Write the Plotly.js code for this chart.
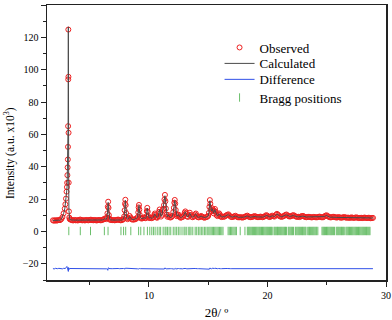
<!DOCTYPE html>
<html>
<head>
<meta charset="utf-8">
<script src="https://cdn.plot.ly/plotly-3.0.1.min.js"></script>
<style>
  html, body { margin: 0; padding: 0; background: #fff; }
  #plot { width: 392px; height: 320px; }
</style>
</head>
<body>
<div id="plot"></div>
<script>
// 2theta grid (deg), observed and calculated intensity (a.u. x10^3)
const twoTheta = [
  1.9, 2.0, 2.1, 2.2, 2.3, 2.4, 2.5,
  2.6, 2.7, 2.8, 2.9, 2.95, 3.0, 3.05, 3.08, 3.1, 3.12, 3.14, 3.16, 3.17, 3.18, 3.19, 3.2, 3.21, 3.22, 3.23, 3.25, 3.28, 3.32,
  3.4, 3.5, 3.6, 3.7, 3.8, 3.9, 4.0, 4.1, 4.2, 4.3, 4.4, 4.5, 4.6, 4.7, 4.8, 4.9, 5.0, 5.1, 5.2, 5.3, 5.4, 5.5, 5.6, 5.7, 5.8, 5.9, 6.0, 6.1, 6.2,
  6.3, 6.4, 6.45, 6.5, 6.53, 6.56, 6.59, 6.62, 6.66, 6.7, 6.8, 6.9,
  7.0, 7.1, 7.2, 7.3, 7.4, 7.5, 7.6, 7.7, 7.8,
  7.85, 7.9, 7.95, 7.98, 8.01, 8.04, 8.07, 8.12, 8.2, 8.3, 8.37, 8.45, 8.55, 8.65, 8.75, 8.85, 8.95,
  9.05, 9.1, 9.13, 9.16, 9.19, 9.22, 9.28, 9.35, 9.45, 9.55, 9.65, 9.72,
  9.78, 9.82, 9.86, 9.9, 9.95, 10.02, 10.1, 10.2, 10.3, 10.38,
  10.45, 10.5, 10.55, 10.62, 10.7, 10.78, 10.85, 10.9, 10.95, 11.02, 11.1, 11.17, 11.22, 11.27, 11.31,
  11.35, 11.39, 11.43, 11.48, 11.55, 11.62, 11.7, 11.8, 11.9, 11.98,
  12.05, 12.1, 12.14, 12.18, 12.22, 12.26, 12.3, 12.36, 12.42, 12.5, 12.58, 12.66, 12.75, 12.85, 12.95,
  13.02, 13.07, 13.12, 13.2, 13.3, 13.38, 13.45, 13.52, 13.6, 13.7, 13.8, 13.9, 13.96, 14.02, 14.1, 14.2, 14.3, 14.4, 14.5, 14.6, 14.7, 14.8, 14.9, 15.0,
  15.06, 15.1, 15.14, 15.18, 15.22, 15.28, 15.34, 15.4, 15.46, 15.52, 15.57, 15.62, 15.7, 15.78, 15.86, 15.92, 15.97, 16.04, 16.12, 16.2,
  16.3, 16.4, 16.5, 16.6, 16.7, 16.8, 16.9, 17.0, 17.1, 17.2, 17.3, 17.4, 17.5, 17.6, 17.7, 17.8, 17.9, 18.0, 18.1, 18.2,
  18.3, 18.4, 18.5, 18.6, 18.7, 18.8, 18.9, 19.0,
  19.1, 19.2, 19.3, 19.4, 19.5, 19.6, 19.7, 19.8, 19.9, 20.0,
  20.1, 20.2, 20.3, 20.4, 20.5, 20.6, 20.7, 20.8, 20.9, 21.0,
  21.1, 21.2, 21.3, 21.4, 21.5, 21.6, 21.7, 21.8, 21.9, 22.0,
  22.1, 22.2, 22.3, 22.4, 22.5, 22.6, 22.7, 22.8, 22.9, 23.0,
  23.1, 23.2, 23.3, 23.4, 23.5, 23.6, 23.7, 23.8, 23.9, 24.0,
  24.1, 24.2, 24.3, 24.4, 24.5, 24.6, 24.7, 24.8, 24.9, 25.0,
  25.1, 25.2, 25.3, 25.4, 25.5, 25.6, 25.7, 25.8, 25.9, 26.0,
  26.1, 26.2, 26.3, 26.4, 26.5, 26.6, 26.7, 26.8, 26.9, 27.0,
  27.1, 27.2, 27.3, 27.4, 27.5, 27.6, 27.7, 27.8, 27.9, 28.0,
  28.1, 28.2, 28.3, 28.4, 28.5, 28.6, 28.7, 28.8, 28.9
];

const observed = [
  6.9, 6.6, 7.0, 6.7, 6.9, 7.1, 7.0,
  7.6, 8.9, 11.2, 14.1, 16.8, 20.3, 24.6, 27.4, 30.1, 34.8, 39.6, 44.5, 52.3, 65.1, 94.0, 124.8, 95.6, 61.0, 30.2, 12.4, 8.6, 7.6,
  7.3, 7.0, 6.8, 7.1, 6.9, 7.0, 6.8, 7.1, 7.4, 7.0, 6.9, 7.0, 6.8, 7.1, 7.0, 6.9, 7.1, 7.3, 7.0, 6.9, 7.1, 7.0, 6.8, 7.0, 7.1, 6.9, 7.0, 7.2, 7.6,
  8.1, 7.6, 8.4, 11.2, 15.3, 18.4, 14.6, 10.1, 8.0, 7.3, 7.1, 7.0,
  7.1, 6.9, 7.0, 7.2, 7.4, 7.1, 6.9, 7.0, 7.3,
  7.8, 9.2, 13.1, 17.2, 19.6, 16.3, 11.4, 8.4, 7.6, 8.3, 9.6, 8.6, 7.5, 7.3, 7.4, 7.6, 8.0,
  8.9, 11.8, 14.9, 16.4, 13.5, 10.3, 8.6, 8.0, 8.1, 8.7, 8.4, 8.2,
  9.3, 12.6, 14.6, 12.2, 9.4, 8.3, 8.6, 8.2, 8.4, 8.9,
  10.2, 11.1, 10.0, 8.7, 8.5, 9.4, 12.1, 13.6, 11.5, 9.2, 10.3, 13.2, 14.1, 16.3, 19.8,
  22.6, 18.7, 14.2, 10.4, 9.1, 10.2, 9.0, 8.6, 8.9, 9.6,
  12.0, 14.6, 17.8, 19.5, 17.2, 13.3, 10.6, 9.4, 10.1, 10.4, 9.1, 8.5, 8.7, 9.0, 10.1,
  11.6, 12.4, 11.1, 9.3, 9.0, 10.4, 11.6, 10.2, 9.1, 8.8, 9.3, 10.5, 11.1, 9.8, 8.9, 8.7, 9.0, 9.6, 9.1, 8.7, 8.5, 8.8, 9.0, 9.6,
  11.5, 15.2, 19.4, 17.1, 13.6, 12.4, 14.3, 13.1, 11.2, 12.8, 13.9, 12.2, 10.1, 9.5, 10.3, 11.2, 10.6, 9.3, 8.9, 9.2,
  9.0, 9.3, 9.8, 10.3, 10.6, 9.8, 9.1, 8.9, 9.0, 9.4, 9.7, 9.2, 8.8, 8.7, 8.9, 8.7, 8.6, 8.8, 9.1, 9.5,
  9.8, 9.2, 8.9, 8.8, 9.0, 9.2, 9.5, 9.3,
  9.0, 8.8, 8.9, 9.2, 9.0, 8.8, 9.1, 9.5, 10.1, 9.7,
  9.1, 8.9, 9.3, 9.8, 9.4, 9.2, 10.2, 10.9, 10.3, 9.5,
  9.2, 9.0, 9.3, 9.6, 10.2, 10.5, 9.9, 9.4, 9.2, 9.5,
  9.9, 10.1, 9.6, 9.2, 9.0, 9.1, 8.9, 9.2, 9.5, 9.6,
  9.2, 8.9, 8.8, 9.0, 9.1, 8.9, 8.7, 8.8, 9.0, 8.9,
  8.7, 8.8, 9.0, 9.2, 8.9, 8.7, 8.8, 9.3, 9.8, 10.0,
  9.4, 8.9, 8.7, 8.8, 9.0, 9.1, 8.8, 8.6, 8.7, 8.9,
  8.7, 8.5, 8.6, 8.8, 8.9, 8.6, 8.5, 8.6, 8.4, 8.5,
  8.7, 8.5, 8.4, 8.6, 8.7, 8.5, 8.3, 8.4, 8.5, 8.3,
  8.4, 8.6, 8.4, 8.3, 8.5, 8.4, 8.2, 8.3, 8.4
];

const calculated = [
  6.8, 6.8, 6.8, 6.8, 6.9, 6.9, 7.0,
  7.5, 9.0, 11.0, 14.0, 16.7, 19.5, 23.3, 26.0, 28.8, 34.2, 39.4, 45.0, 53.0, 66.0, 95.0, 126.5, 97.0, 60.3, 31.0, 13.0, 8.5, 7.5,
  7.2, 7.0, 7.0, 7.0, 7.0, 7.0, 7.0, 7.0, 7.3, 7.0, 7.0, 7.0, 7.0, 7.0, 7.0, 7.0, 7.0, 7.2, 7.0, 7.0, 7.0, 7.0, 7.0, 7.0, 7.0, 7.0, 7.0, 7.1, 7.5,
  7.9, 7.5, 8.5, 11.5, 16.3, 18.0, 14.0, 10.0, 8.0, 7.4, 7.1, 7.0,
  7.0, 7.0, 7.0, 7.1, 7.3, 7.1, 7.0, 7.0, 7.2,
  7.7, 9.0, 13.0, 17.5, 19.3, 16.0, 11.5, 8.5, 7.6, 8.2, 9.4, 8.5, 7.5, 7.3, 7.4, 7.6, 8.0,
  9.0, 12.0, 15.0, 16.2, 13.4, 10.2, 8.6, 8.0, 8.1, 8.6, 8.4, 8.2,
  9.4, 12.4, 14.4, 12.3, 9.5, 8.4, 8.5, 8.2, 8.4, 8.8,
  10.0, 10.9, 10.1, 8.8, 8.5, 9.3, 11.9, 13.4, 11.6, 9.3, 10.2, 13.0, 14.3, 16.5, 20.0,
  22.1, 18.9, 14.0, 10.5, 9.1, 10.1, 9.1, 8.6, 8.9, 9.5,
  11.8, 14.8, 18.0, 19.2, 17.0, 13.5, 10.7, 9.5, 10.0, 10.3, 9.1, 8.6, 8.7, 9.1, 10.0,
  11.4, 12.2, 11.0, 9.4, 9.0, 10.3, 11.4, 10.1, 9.1, 8.8, 9.2, 10.4, 10.9, 9.8, 8.9, 8.7, 9.0, 9.5, 9.1, 8.7, 8.6, 8.8, 9.0, 9.5,
  11.7, 15.5, 19.0, 17.0, 13.8, 12.6, 14.0, 13.0, 11.3, 12.7, 13.6, 12.0, 10.2, 9.5, 10.2, 11.0, 10.5, 9.3, 8.9, 9.1,
  9.0, 9.2, 9.7, 10.2, 10.4, 9.8, 9.1, 8.9, 9.0, 9.3, 9.6, 9.2, 8.8, 8.7, 8.8, 8.7, 8.7, 8.8, 9.1, 9.4,
  9.6, 9.2, 8.9, 8.8, 9.0, 9.2, 9.4, 9.3,
  9.0, 8.9, 8.9, 9.1, 9.0, 8.9, 9.1, 9.5, 9.9, 9.7,
  9.2, 9.0, 9.3, 9.7, 9.4, 9.3, 10.1, 10.7, 10.3, 9.6,
  9.2, 9.1, 9.3, 9.6, 10.1, 10.3, 9.9, 9.4, 9.3, 9.5,
  9.8, 10.0, 9.6, 9.2, 9.1, 9.0, 9.0, 9.2, 9.4, 9.5,
  9.2, 9.0, 8.9, 9.0, 9.0, 8.9, 8.8, 8.8, 8.9, 8.9,
  8.8, 8.8, 9.0, 9.1, 8.9, 8.8, 8.8, 9.2, 9.7, 9.9,
  9.4, 8.9, 8.8, 8.8, 8.9, 9.0, 8.8, 8.7, 8.7, 8.8,
  8.7, 8.6, 8.6, 8.7, 8.8, 8.6, 8.5, 8.5, 8.5, 8.5,
  8.6, 8.5, 8.5, 8.5, 8.6, 8.5, 8.4, 8.4, 8.4, 8.4,
  8.4, 8.5, 8.4, 8.4, 8.4, 8.4, 8.3, 8.3, 8.4
];

// difference curve is drawn shifted down by this offset
const diffOffset = -23;

// Bragg reflection positions (2theta) and the level they are drawn at
const braggPositions = [
  3.24, 4.21, 5.07, 6.24, 6.55, 7.64, 7.86, 8.04, 8.47, 9.13, 9.31, 9.58, 9.87,
  10.07, 10.24, 10.38, 10.52, 10.7, 10.86, 10.99, 11.2, 11.36, 11.44, 11.56, 11.7, 11.84,
  12.05, 12.2, 12.34, 12.48, 12.62, 12.79, 12.96, 13.05, 13.19, 13.36, 13.45, 13.55, 13.7, 13.9,
  14.03, 14.17, 14.3, 14.42, 14.55, 14.68, 14.8, 14.92, 15.05, 15.15, 15.25, 15.35, 15.45,
  15.55, 15.65, 15.75, 15.85, 15.95, 16.05, 16.15, 16.25, 16.68, 16.78, 16.88, 16.98,
  17.08, 17.18, 17.28, 17.38, 17.7, 18.1,
  18.3, 18.38, 18.45, 18.52, 18.6, 18.68, 18.75, 18.83, 18.9, 18.98, 19.05, 19.12, 19.2,
  19.28, 19.35, 19.43, 19.5, 19.58, 19.65, 19.72, 19.8, 19.88, 19.95, 20.02, 20.1, 20.18,
  20.25, 20.33, 20.4, 20.55, 20.62, 20.7, 20.78, 20.85, 20.92, 21.0, 21.08, 21.15, 21.22,
  21.3, 21.38, 21.45, 21.52, 21.6, 21.75, 21.82, 21.9, 21.98, 22.05, 22.12, 22.2, 22.35,
  22.42, 22.5, 22.58, 22.65, 22.72, 22.8, 22.88, 22.95, 23.02, 23.1, 23.18, 23.25, 23.4,
  23.48, 23.55, 23.62, 23.7, 23.78, 23.85, 23.92, 24.0, 24.08, 24.15, 24.25,
  24.6, 24.68, 24.75, 24.82, 24.9, 24.98, 25.05, 25.12, 25.2, 25.28, 25.35, 25.42, 25.5,
  25.58, 25.65, 25.8, 25.88, 25.95, 26.02, 26.1, 26.18, 26.25, 26.32, 26.4, 26.48, 26.62,
  26.7, 26.78, 26.85, 26.92, 27.0, 27.08, 27.15, 27.22, 27.3, 27.38, 27.45, 27.52, 27.6,
  27.68, 27.75, 27.82, 27.9, 27.98, 28.05, 28.12, 28.2, 28.28, 28.35, 28.42, 28.5, 28.58, 28.65
];
const braggLevel = 0.3;

const difference = observed.map((v, i) => v - calculated[i] + diffOffset);

const serif = "Liberation Serif, Times New Roman, serif";

const traceObs = {
  x: twoTheta,
  y: observed,
  type: "scatter",
  mode: "markers",
  name: "Observed",
  legend: "legend",
  marker: { symbol: "circle-open", size: 5, color: "#ee2020", line: { width: 1 } },
};
const traceCalc = {
  x: twoTheta,
  y: calculated,
  type: "scatter",
  mode: "lines",
  name: "Calculated",
  legend: "legend2",
  line: { color: "#4a4a4a", width: 1 },
};
const traceDiff = {
  x: twoTheta,
  y: difference,
  type: "scatter",
  mode: "lines",
  name: "Difference",
  legend: "legend3",
  line: { color: "#3050e8", width: 1 },
};
const traceBragg = {
  x: braggPositions,
  y: braggPositions.map(() => braggLevel),
  type: "scatter",
  mode: "markers",
  name: "Bragg positions",
  legend: "legend4",
  marker: { symbol: "line-ns", size: 6, color: "#3aaa3a", line: { color: "#3aaa3a", width: 1 } },
  opacity: 0.75,
};

const axisCommon = {
  showline: true,
  linecolor: "#222",
  linewidth: 1.5,
  mirror: true,
  ticks: "outside",
  ticklen: 5,
  tickwidth: 1,
  tickcolor: "#222",
  showgrid: false,
  zeroline: false,
  tickfont: { family: serif, size: 10, color: "#000" },
};

// one legend box per entry so the row spacing can follow the reference
const legendBox = (y) => ({
  x: 0.509, y: y, xanchor: "left", yanchor: "top",
  bgcolor: "rgba(0,0,0,0)",
  font: { family: serif, size: 13, color: "#000" },
  itemwidth: 30,
});

const layout = {
  width: 392,
  height: 320,
  margin: { l: 47, r: 6, t: 5, b: 40 },
  showlegend: true,
  legend: legendBox(0.90),
  legend2: legendBox(0.842),
  legend3: legendBox(0.784),
  legend4: legendBox(0.718),
  xaxis: Object.assign({}, axisCommon, {
    range: [1.4, 30],
    dtick: 10,
    tick0: 0,
    minor: { dtick: 5, ticks: "outside", ticklen: 3, tickcolor: "#222" },
    title: { text: "2θ/ º", font: { family: serif, size: 13, color: "#000" }, standoff: 12 },
  }),
  yaxis: Object.assign({}, axisCommon, {
    range: [-30, 140],
    dtick: 20,
    tick0: 0,
    minor: { dtick: 10, ticks: "outside", ticklen: 3, tickcolor: "#222" },
  }),
  // y title as a rotated annotation: the reference sits it below the plot centre
  annotations: [
    {
      xref: "paper",
      yref: "paper",
      x: -0.109,
      y: 0.462,
      xanchor: "center",
      yanchor: "middle",
      textangle: -90,
      text: "Intensity (a.u. x10<sup>3</sup>)",
      showarrow: false,
      font: { family: serif, size: 11.5, color: "#000" },
    },
  ],
  plot_bgcolor: "#ffffff",
  paper_bgcolor: "#ffffff",
};

Plotly.newPlot("plot", [traceObs, traceCalc, traceDiff, traceBragg], layout, { displayModeBar: false, staticPlot: true });
</script>
</body>
</html>
